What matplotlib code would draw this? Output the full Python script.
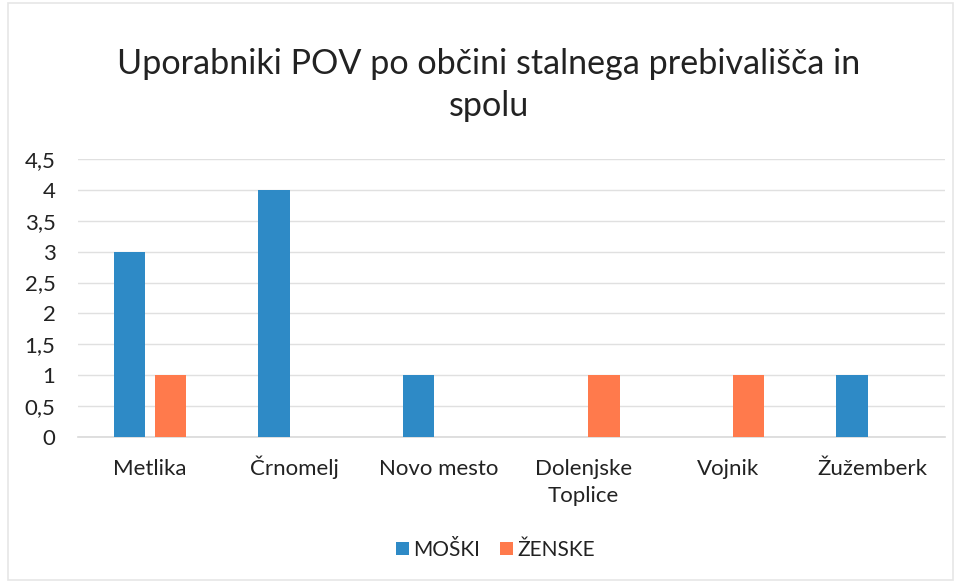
import matplotlib
matplotlib.use("Agg")
import matplotlib.pyplot as plt
import numpy as np
from matplotlib.patches import Rectangle

categories = ["Metlika", "Črnomelj", "Novo mesto", "Dolenjske\nToplice", "Vojnik", "Žužemberk"]
moski = [3, 4, 1, 0, 0, 1]
zenske = [1, 0, 0, 1, 1, 0]
yticks = [0, 0.5, 1, 1.5, 2, 2.5, 3, 3.5, 4, 4.5]
ytick_labels = ["0", "0,5", "1", "1,5", "2", "2,5", "3", "3,5", "4", "4,5"]
title = "Uporabniki POV po občini stalnega prebivališča in\nspolu"
series_names = ["MOŠKI", "ŽENSKE"]

plt.rcParams['font.family'] = ['Lato', 'DejaVu Sans']

blue = "#2E8AC6"
orange = "#FF7A4C"
txt = "#222222"
fs = 16

fig = plt.figure(figsize=(9.6, 5.83), dpi=100)
ax = fig.add_axes([0.081, 0.2504, 0.903, 0.4769])

x = np.arange(len(categories))
w = 0.22
off = 0.142
ax.bar(x - off, moski, width=w, color=blue, label=series_names[0], zorder=3)
ax.bar(x + off, zenske, width=w, color=orange, label=series_names[1], zorder=3)

ax.set_xlim(-0.5, len(categories) - 0.5)
ax.set_ylim(0, 4.5)
ax.set_yticks(yticks)
ax.set_yticklabels(ytick_labels, fontsize=fs, color=txt)
ax.set_xticks(x)
ax.set_xticklabels([])
for i, c in enumerate(categories):
    for k, line in enumerate(c.split("\n")):
        ax.annotate(line, xy=(i, 0), xycoords=('data', 'axes fraction'),
                    xytext=(0, -27.5 - 19.5 * k), textcoords='offset points',
                    ha='center', va='baseline', fontsize=fs, color=txt)
ax.tick_params(axis='both', length=0)
ax.tick_params(axis='y', pad=16)
ax.yaxis.grid(True, color="#E0E0E0", linewidth=1.0, zorder=0)
for s in ["top", "right", "left"]:
    ax.spines[s].set_visible(False)
ax.spines["bottom"].set_color("#D9D9D9")
ax.spines["bottom"].set_linewidth(1.2)

fig.text(0.509, 0.854, title, ha="center", va="center", fontsize=24.6, color=txt, linespacing=1.4)

leg = fig.legend(loc="center", bbox_to_anchor=(0.516, 0.0566), ncol=2, frameon=False,
                 fontsize=15, handlelength=0.62, handleheight=0.62, handletextpad=0.2,
                 columnspacing=1.0, borderpad=0.2)
for t in leg.get_texts():
    t.set_color(txt)

fig.patches.append(Rectangle((0.008, 0.005), 0.985, 0.99, transform=fig.transFigure,
                             fill=False, edgecolor="#E6E6E6", linewidth=1.2))

fig.savefig("out.png", dpi=100)
